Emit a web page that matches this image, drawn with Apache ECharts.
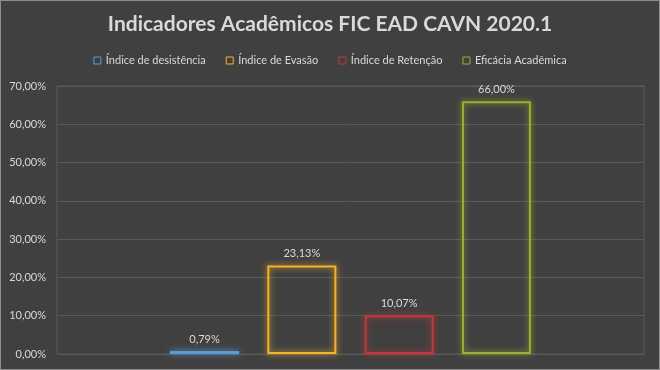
<!DOCTYPE html>
<html><head><meta charset="utf-8">
<script src="https://cdn.jsdelivr.net/npm/echarts@6/dist/echarts.min.js"></script>
<style>
html,body{margin:0;padding:0;background:#404040;}
#c{width:658px;height:368px;border:1px solid #8c8c8c;}
</style></head>
<body><div id="c"></div>
<script>
const categories = [''];
const seriesNames = ['Índice de desistência','Índice de Evasão','Índice de Retenção','Eficácia Acadêmica'];
const seriesValues = [0.79, 23.13, 10.07, 66.00];
const seriesColors = ['#5b9bd5','#f5b22a','#c0383a','#9bb12a'];
const yTicks = [0,10,20,30,40,50,60,70];

const fmt = v => v.toFixed(2).replace('.', ',') + '%';
const FONT = 'Lato';
const chart = echarts.init(document.getElementById('c'));
chart.setOption({
  backgroundColor: '#404040',
  animation: false,
  textStyle: {fontFamily: FONT},
  title: {
    text: 'Indicadores Acadêmicos FIC EAD CAVN 2020.1',
    left: 'center', top: 8,
    textStyle: {color: '#d9d9d9', fontSize: 21, fontWeight: 'bold', fontFamily: FONT}
  },
  legend: {
    top: 49, left: 'center', itemWidth: 7, itemHeight: 7, itemGap: 20,
    icon: 'rect',
    textStyle: {color: '#d9d9d9', fontSize: 11, fontFamily: FONT},
    data: seriesNames.map((n, i) => ({name: n, itemStyle: {color: 'transparent', borderColor: seriesColors[i], borderWidth: 1}}))
  },
  grid: {left: 56, right: 15, top: 85, bottom: 15, show: true, borderColor: '#5a5a5a', borderWidth: 1},
  xAxis: {type: 'category', data: categories, axisLine: {show: false}, axisTick: {show: false}, axisLabel: {show: false}},
  yAxis: {
    type: 'value', min: yTicks[0], max: yTicks[yTicks.length - 1], interval: 10,
    axisLine: {show: false}, axisTick: {show: false},
    splitLine: {lineStyle: {color: '#5a5a5a', width: 1}},
    axisLabel: {color: '#d9d9d9', fontSize: 11, margin: 11, formatter: v => fmt(v)}
  },
  series: seriesNames.map((n, i) => ({
    name: n, type: 'bar', barWidth: 69, barGap: '41%',
    data: [seriesValues[i]],
    itemStyle: {color: 'transparent', borderColor: seriesColors[i], borderWidth: 2, shadowBlur: 6, shadowColor: seriesColors[i]},
    label: {show: true, position: 'top', distance: 6, color: '#d9d9d9', fontSize: 11, formatter: p => fmt(p.value)}
  }))
});
</script></body></html>
